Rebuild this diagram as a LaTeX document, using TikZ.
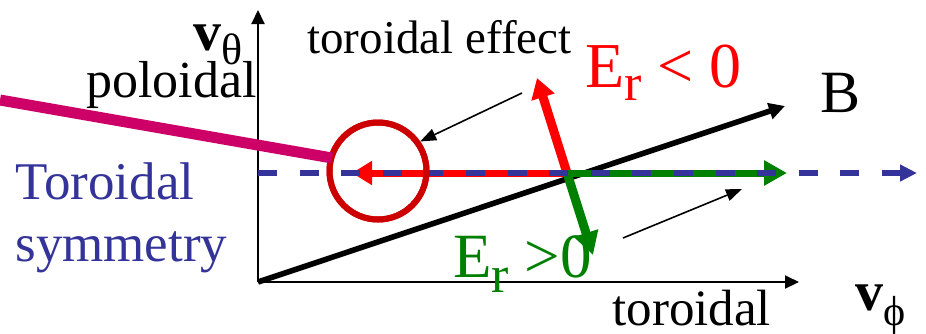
\documentclass[tikz,border=0pt]{standalone}
\usepackage{fontspec}
\setmainfont{Liberation Serif}
\usetikzlibrary{arrows.meta}
\definecolor{blue700} {HTML}{333399}
\definecolor{red500}  {HTML}{FF0000}
\definecolor{red700}  {HTML}{CC0000}
\definecolor{green700}{HTML}{008000}
\definecolor{rose600} {HTML}{CC0066}
\newcommand{\fs}[1]{\fontsize{#1}{#1}\selectfont}
\newcommand{\lowsub}[3]{\raisebox{-#1}{\fs{#2}#3}}
\tikzset{
  lbl/.style   ={inner sep=0pt, anchor=base west},
  axis/.style  ={-{Triangle[length=7pt,width=6.5pt]}, draw=black,
                 line width=1pt},
  barrow/.style={-{Triangle[length=8pt,width=8pt]}, draw=black,
                 line width=2.8pt},
  rarrow/.style={-{Triangle[length=10pt,width=11.5pt]}, draw=red500,
                 line width=3.5pt},
  garrow/.style={-{Triangle[length=11.5pt,width=12pt]}, draw=green700,
                 line width=3.5pt},
  tilt/.style  ={line width=4.5pt},
  symm/.style  ={-{Triangle[length=8.5pt,width=8pt]}, draw=blue700,
                 line width=3pt, dash pattern=on 9.5pt off 11.3pt},
  pol/.style   ={draw=rose600, line width=5.5pt},
  ring/.style  ={circle, draw=red700, line width=3pt, minimum size=48.5pt,
                 inner sep=0pt},
  pointer/.style={-{Triangle[length=8pt,width=6pt]}, draw=black,
                 line width=0.8pt}
}

\begin{document}
\begin{tikzpicture}[x=0.5pt,y=-0.5pt]
\useasboundingbox (0,0) rectangle (926,333);
\coordinate (o)  at (258,282);
\coordinate (vt) at (258,10);
\coordinate (vp) at (799,282);
\coordinate (c)  at (567,173);
\coordinate (bt) at (785,106);
\coordinate (er) at (537,78);
\coordinate (eg) at (593,255);
\coordinate (rl) at (352,173);
\coordinate (gr) at (787,173);
\coordinate (sl) at (258,173);
\coordinate (sr) at (917,173);
\coordinate (pa) at (0,100);
\coordinate (pb) at (332,158);
\coordinate (ea) at (522,93);
\coordinate (fa) at (623,238);
\coordinate (fb) at (742,189);
\node[ring] (rg) at (378,171) {};

\draw[axis] (o) -- (vt);
\draw[axis] (o) -- (vp);
\draw[barrow] (o) -- (bt);
\draw[rarrow] (c) -- (rl);
\draw[rarrow, tilt] (c) -- (er);
\draw[garrow] (c) -- (gr);
\draw[garrow, tilt] (c) -- (eg);
\draw[symm] (sl) -- (sr);
\node[ring] at (rg) {};
\draw[pol] (pa) -- (pb);
\draw[pointer] (ea) -- (rg.35);
\draw[pointer] (fa) -- (fb);

\node[lbl, font=\fs{28}] (vth) at (193,50)
  {\textbf{v}\lowsub{7pt}{22}{θ}};
\node[lbl, font=\fs{23.5}] (eff) at (307,53) {toroidal effect};
\node[lbl, anchor=base east, font=\fs{26}] (pold) at (257,97) {poloidal};
\node[lbl, text=red500, font=\fs{32}] (ern) at (585,87)
  {E\lowsub{6.5pt}{26}{r} < 0};
\node[lbl, font=\fs{30}] (bf) at (820,112) {B};
\node[lbl, anchor=north west, align=left, text=blue700,
      font=\fontsize{26.5}{31}\selectfont] (sym) at (15,162)
  {Toroidal\\symmetry};
\node[lbl, text=green700, font=\fs{31.5}] (erp) at (453,277)
  {E\lowsub{7.5pt}{26}{r} >0};
\node[lbl, font=\fs{25.5}] (tor) at (612,325) {toroidal};
\node[lbl, font=\fs{28}] (vph) at (855,310)
  {\textbf{v}\lowsub{7.5pt}{21}{ϕ}};
\end{tikzpicture}
\end{document}
